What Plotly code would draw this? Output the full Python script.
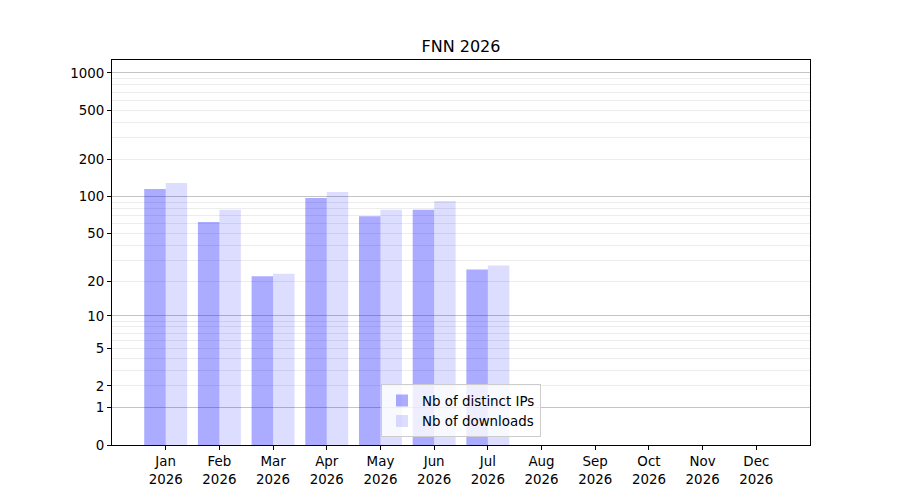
import plotly.graph_objs as go
import numpy as np

months = ["Jan", "Feb", "Mar", "Apr", "May", "Jun", "Jul", "Aug", "Sep", "Oct", "Nov", "Dec"]
year = "2026"
ips = [115, 62, 22, 97, 69, 78, 25, 0, 0, 0, 0, 0]
downloads = [129, 78, 23, 109, 78, 92, 27, 0, 0, 0, 0, 0]

tick_vals = [0, 1, 2, 5, 10, 20, 50, 100, 200, 500, 1000]
major_grid = [1, 10, 100, 1000]
minor_grid = [m * d for d in (1, 10, 100) for m in range(2, 10)]


# scale used by the chart: log10(1 + x)
def tr(v):
    return np.log10(1 + np.asarray(v, dtype=float))


x = list(range(len(months)))
ytop = 3.105
font = "DejaVu Sans, Arial, sans-serif"

data = [
    go.Bar(x=x, y=tr(ips), name="Nb of distinct IPs",
           marker={"color": "rgba(0,0,255,0.33)", "line": {"width": 0}}),
    go.Bar(x=x, y=tr(downloads), name="Nb of downloads",
           marker={"color": "rgba(0,0,255,0.135)", "line": {"width": 0}}),
]

fig = go.Figure(data=data)

fig.update_layout(
    width=900, height=500,
    margin={"l": 104, "r": 98, "t": 52, "b": 63},
    paper_bgcolor="white", plot_bgcolor="white",
    font={"family": font, "size": 13.4, "color": "black"},
    barmode="group", bargap=0.2, bargroupgap=0,
    title={"text": "FNN 2026", "x": 0.5033, "xanchor": "center",
           "y": 0.924, "yanchor": "middle", "font": {"size": 16}},
    xaxis={
        "range": [-1, 12],
        "tickvals": x,
        "ticktext": ["{}<br>{}".format(m, year) for m in months],
        "ticks": "outside", "ticklen": 4, "tickcolor": "black",
        "showgrid": False, "zeroline": False,
        "showline": True, "linecolor": "black", "linewidth": 1, "mirror": True,
    },
    yaxis={
        "range": [0, ytop],
        "tickvals": tr(tick_vals),
        "ticktext": [str(v) for v in tick_vals],
        "ticks": "outside", "ticklen": 4, "tickcolor": "black",
        "showgrid": False, "zeroline": False,
        "showline": True, "linecolor": "black", "linewidth": 1, "mirror": True,
        "minor": {"tickvals": tr(minor_grid), "showgrid": True,
                  "gridcolor": "#ececec", "gridwidth": 1, "ticks": ""},
    },
    yaxis2={
        "range": [0, ytop], "overlaying": "y",
        "tickvals": tr(major_grid), "showticklabels": False,
        "showgrid": True, "gridcolor": "#c4c4c4", "gridwidth": 1,
        "zeroline": False, "ticks": "",
    },
    legend={
        "x": 0.5, "xanchor": "center", "y": 0.02, "yanchor": "bottom",
        "bgcolor": "rgba(255,255,255,0.8)", "bordercolor": "#cccccc",
        "borderwidth": 1, "font": {"size": 13.4},
    },
)

# dummy trace so the overlay axis gets drawn
fig.add_trace(go.Scatter(x=[None], y=[None], yaxis="y2", showlegend=False,
                         hoverinfo="skip"))

fig.write_html("out.html")
